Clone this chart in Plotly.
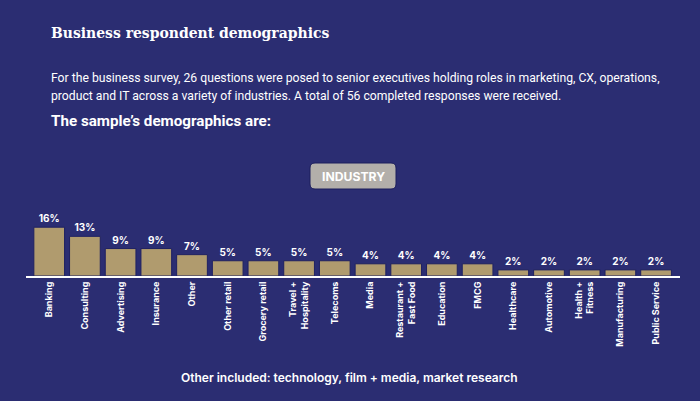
import plotly.graph_objects as go

# industry split of the 56 business respondents (share in %)
industries = ["Banking", "Consulting", "Advertising", "Insurance", "Other",
              "Other retail", "Grocery retail", "Travel +<br>Hospitality", "Telecoms",
              "Media", "Restaurant +<br>Fast Food", "Education", "FMCG",
              "Healthcare", "Automotive", "Health +<br>Fitness", "Manufacturing",
              "Public Service"]
shares = [16, 13, 9, 9, 7, 5, 5, 5, 5, 4, 4, 4, 4, 2, 2, 2, 2, 2]
share_labels = [f"{v}%" for v in shares]

title_text = "Business respondent demographics"
intro_lines = ["For the business survey, 26 questions were posed to senior executives holding roles in marketing, CX, operations,",
               "product and IT across a variety of industries. A total of 56 completed responses were received."]
sub_text = "The sample\u2019s demographics are:"
button_text = "INDUSTRY"
footer_text = "Other included: technology, film + media, market research"

BG = "#2b2d72"
BAR = "#b09b6e"
W, H = 700, 401


def px(x):
    return x / W


def py(y):
    return 1 - y / H


fig = go.Figure()
fig.add_trace(go.Bar(
    x=industries, y=shares, text=share_labels, textposition="outside",
    cliponaxis=False,
    textfont=dict(family="Inter", size=10, color="white", weight="bold"),
    marker=dict(color=BAR, line=dict(color="#1f2162", width=1)),
    hoverinfo="skip",
))

annotations = [
    dict(text=title_text, x=px(49), y=py(33),
         font=dict(family="DejaVu Serif Condensed, DejaVu Serif", size=15.5, color="white", weight="bold")),
    dict(text=intro_lines[0], x=px(49), y=py(78),
         font=dict(family="Roboto", size=12.2, color="white")),
    dict(text=intro_lines[1], x=px(49), y=py(96),
         font=dict(family="Roboto", size=12.2, color="white")),
    dict(text=sub_text, x=px(49), y=py(121),
         font=dict(family="Roboto", size=15.2, color="white", weight="bold")),
]
for a in annotations:
    a.update(xref="paper", yref="paper", xanchor="left", yanchor="middle", showarrow=False)

annotations.append(dict(text=button_text, x=px(353), y=py(176), xref="paper", yref="paper",
                        showarrow=False, xanchor="center", yanchor="middle",
                        font=dict(family="Inter", size=12.2, color="white", weight="bold")))
annotations.append(dict(text=footer_text, x=px(349), y=py(377), xref="paper", yref="paper",
                        showarrow=False, xanchor="center", yanchor="middle",
                        font=dict(family="Inter", size=12, color="white", weight=600)))

# rounded grey button behind "INDUSTRY"
x0, x1, y0, y1, r = 310, 396, 163, 189, 5
rx, ry = r / W, r / H
path = (f"M {px(x0) + rx},{py(y0)} L {px(x1) - rx},{py(y0)} Q {px(x1)},{py(y0)} {px(x1)},{py(y0) - ry} "
        f"L {px(x1)},{py(y1) + ry} Q {px(x1)},{py(y1)} {px(x1) - rx},{py(y1)} "
        f"L {px(x0) + rx},{py(y1)} Q {px(x0)},{py(y1)} {px(x0)},{py(y1) + ry} "
        f"L {px(x0)},{py(y0) - ry} Q {px(x0)},{py(y0)} {px(x0) + rx},{py(y0)} Z")

fig.update_layout(
    width=W, height=H,
    paper_bgcolor=BG, plot_bgcolor=BG,
    margin=dict(l=0, r=0, t=0, b=0),
    showlegend=False,
    bargap=0.14,
    annotations=annotations,
    shapes=[dict(type="path", path=path, xref="paper", yref="paper",
                 fillcolor="#b3afaa", line=dict(color="#1c1e5c", width=1), layer="below")],
    xaxis=dict(domain=[px(26), px(680)], range=[-0.65, 17.67], showline=True,
               linecolor="white", linewidth=2, showgrid=False, ticks="",
               tickangle=-90, automargin=False, fixedrange=True,
               tickfont=dict(family="Inter", size=9, color="white", weight="bold")),
    yaxis=dict(domain=[py(276), py(215)], range=[0, 20], visible=False,
               showgrid=False, zeroline=False, fixedrange=True),
)

fig.write_html("out.html", config={"displayModeBar": False},
               post_script="document.body.style.margin='0';document.body.style.overflow='hidden';")
